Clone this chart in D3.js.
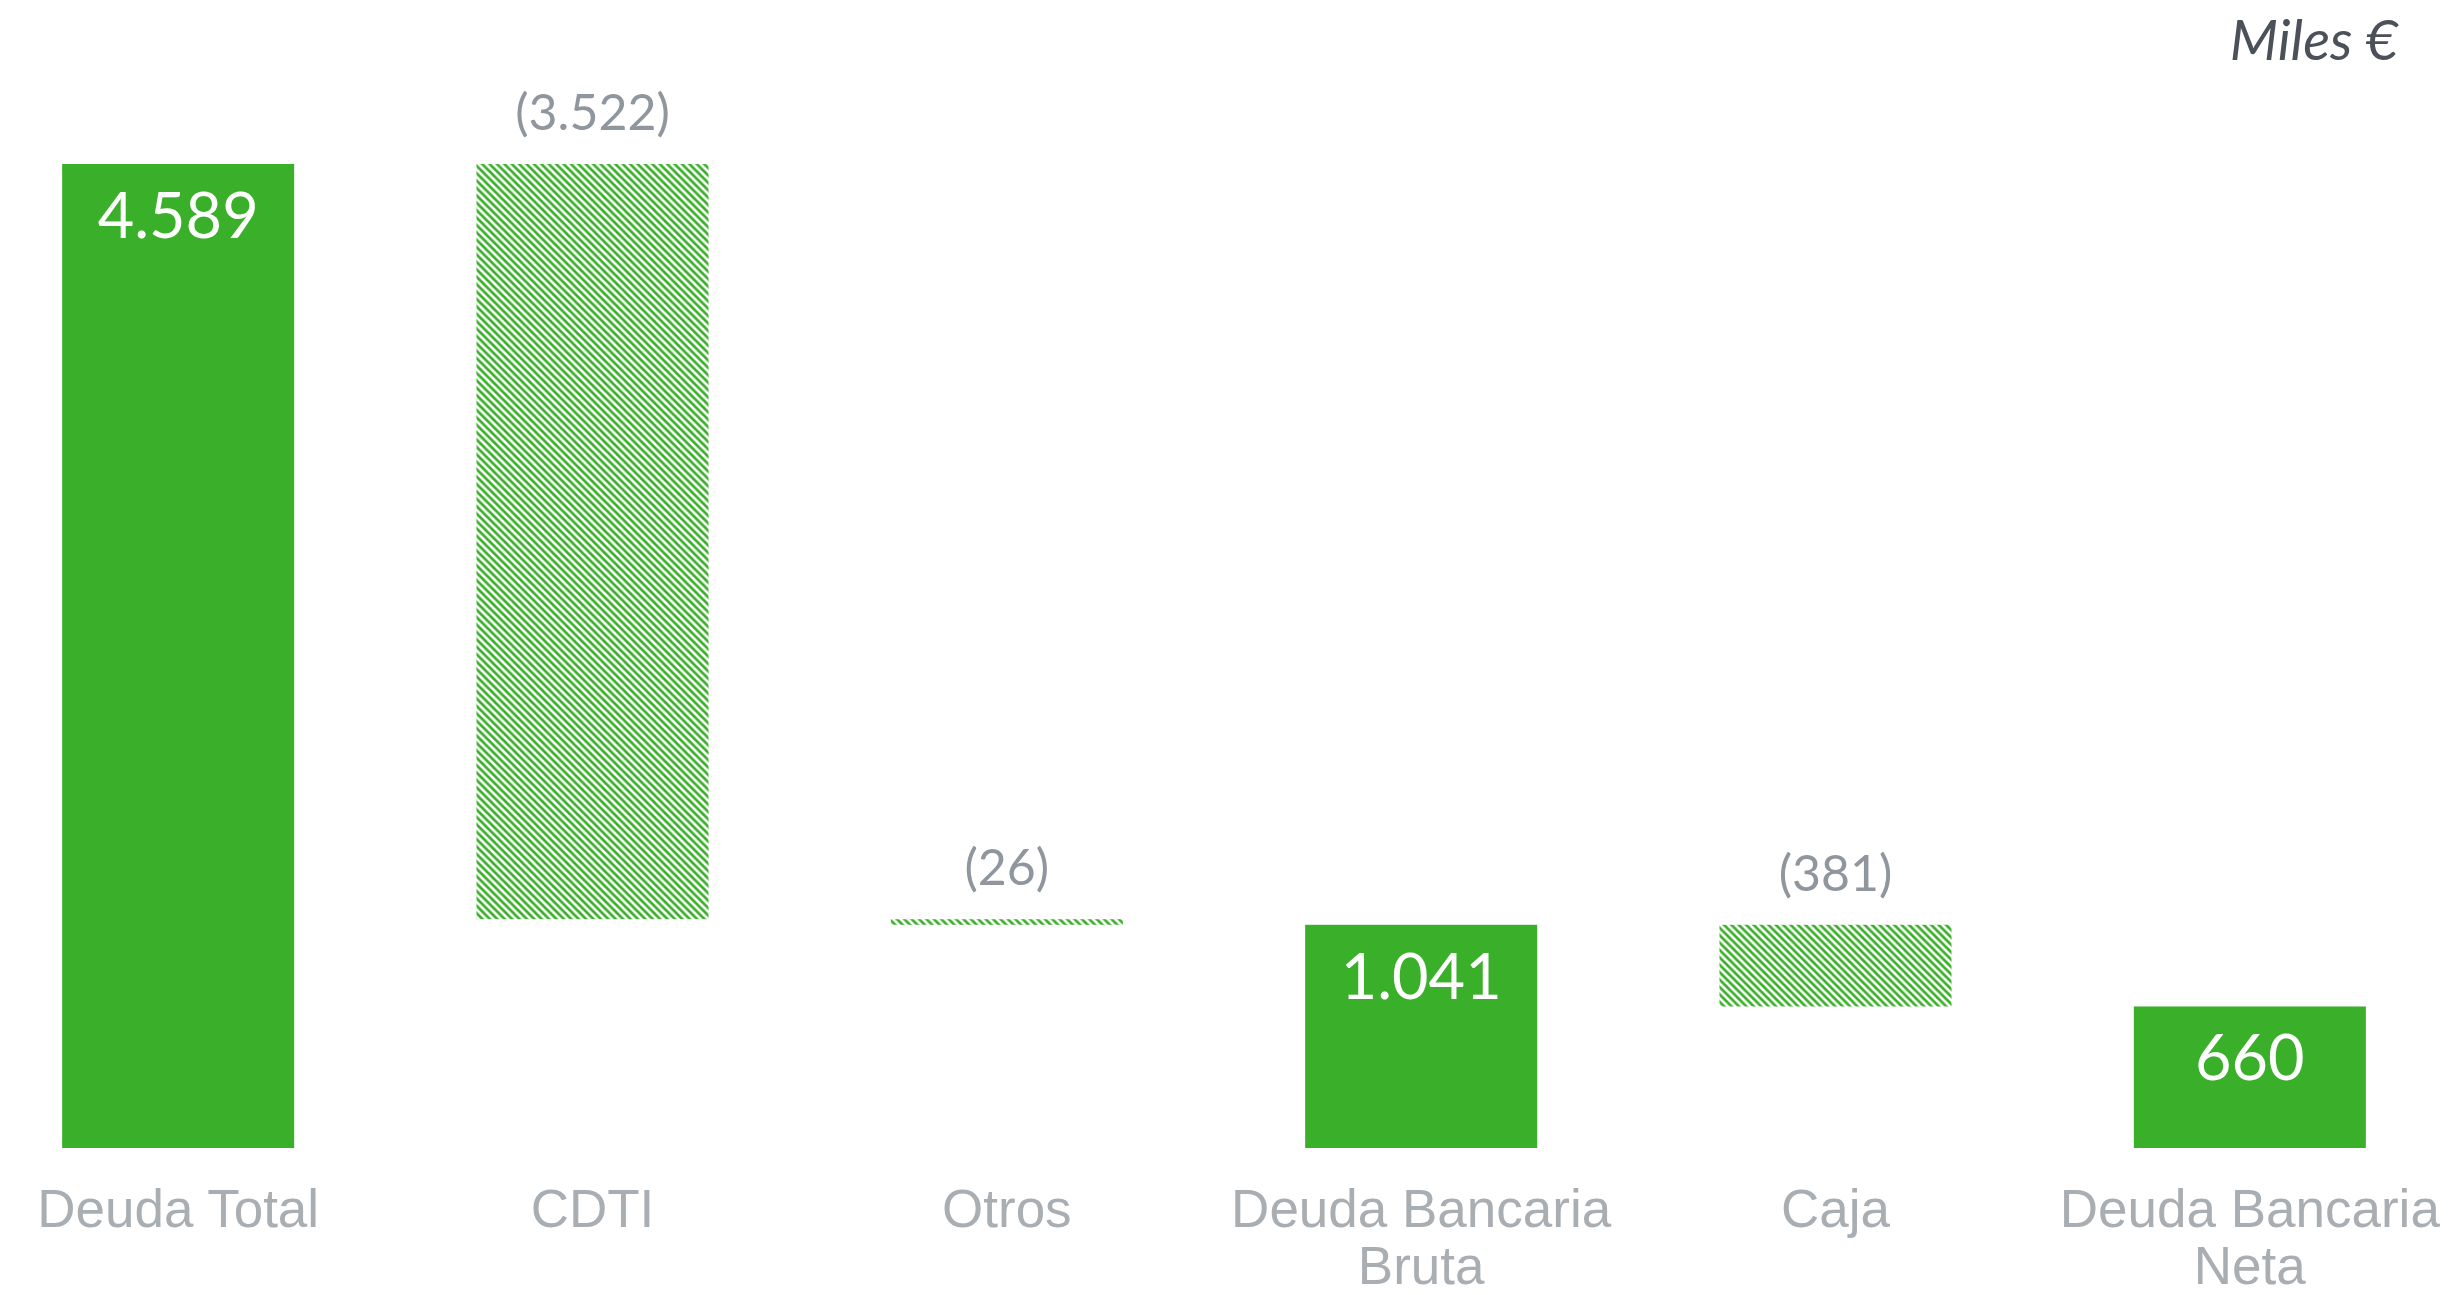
<!DOCTYPE html>
<html>
<head>
<meta charset="utf-8">
<script src="https://cdn.jsdelivr.net/npm/d3@7"></script>
<style>
  html, body { margin: 0; padding: 0; background: #ffffff; }
  svg { display: block; }
</style>
</head>
<body>
<svg id="chart" width="2464" height="1295"></svg>
<script>
// ---- data ----
const categories = ["Deuda Total", "CDTI", "Otros", "Deuda Bancaria Bruta", "Caja", "Deuda Bancaria Neta"];
const categoryLines = [["Deuda Total"], ["CDTI"], ["Otros"], ["Deuda Bancaria", "Bruta"], ["Caja"], ["Deuda Bancaria", "Neta"]];
const values = [4589, -3522, -26, 1041, -381, 660];
const barTypes = ["total", "delta", "delta", "total", "delta", "total"];
const valueLabels = ["4.589", "(3.522)", "(26)", "1.041", "(381)", "660"];
const unitLabel = "Miles €";

// ---- build waterfall segments ----
let running = 0;
const segs = values.map((v, i) => {
  let y0, y1;
  if (barTypes[i] === "total") { y0 = 0; y1 = v; running = v; }
  else { y0 = running; y1 = running + v; running = y1; }
  return { cat: categories[i], lines: categoryLines[i], type: barTypes[i], lo: Math.min(y0, y1), hi: Math.max(y0, y1), label: valueLabels[i] };
});

const svg = d3.select("#chart");
const green = "#3aaf29";

const defs = svg.append("defs");
const pat = defs.append("pattern")
  .attr("id", "hatch").attr("patternUnits", "userSpaceOnUse")
  .attr("width", 7.4).attr("height", 7.4);
pat.append("rect").attr("width", 7.4).attr("height", 7.4).attr("fill", "#ffffff");
pat.append("path")
  .attr("d", "M-1.85,-1.85 L9.25,9.25 M-1.85,5.55 L1.85,9.25 M5.55,-1.85 L9.25,1.85")
  .attr("stroke", green).attr("stroke-width", 2.7);

const x = d3.scaleBand().domain(categories).range([-29, 2457]).paddingInner(0.44).paddingOuter(0.22);
const y = d3.scaleLinear().domain([0, 4589]).range([1148, 164]);

const g = svg.append("g");

g.selectAll("rect.bar").data(segs).join("rect")
  .attr("class", "bar")
  .attr("x", d => x(d.cat))
  .attr("width", x.bandwidth())
  .attr("y", d => y(d.hi))
  .attr("height", d => Math.max(1, y(d.lo) - y(d.hi)))
  .attr("fill", d => d.type === "total" ? green : "url(#hatch)");

// value labels
g.selectAll("text.val").data(segs).join("text")
  .attr("class", "val")
  .attr("x", d => x(d.cat) + x.bandwidth() / 2)
  .attr("y", d => d.type === "total" ? y(d.hi) + 74 : y(d.hi) - 34)
  .attr("text-anchor", "middle")
  .attr("font-family", "Lato, 'Open Sans', sans-serif")
  .attr("font-size", d => d.type === "total" ? 63 : 50)
  .attr("fill", d => d.type === "total" ? "#ffffff" : "#8f969e")
  .text(d => d.label);

// category axis labels
const xl = g.selectAll("text.cat").data(segs).join("text")
  .attr("class", "cat")
  .attr("x", d => x(d.cat) + x.bandwidth() / 2)
  .attr("y", 1227)
  .attr("text-anchor", "middle")
  .attr("font-family", "'Liberation Sans', Arial, sans-serif")
  .attr("font-size", 53)
  .attr("fill", "#a9aeb3");
xl.selectAll("tspan").data(d => d.lines.map(l => ({ l, cx: x(d.cat) + x.bandwidth() / 2 }))).join("tspan")
  .attr("x", t => t.cx)
  .attr("dy", (t, i) => i === 0 ? 0 : 57)
  .text(t => t.l);

// unit label
svg.append("text")
  .attr("x", 2398).attr("y", 60)
  .attr("text-anchor", "end")
  .attr("font-family", "Lato, 'Open Sans', sans-serif")
  .attr("font-style", "italic")
  .attr("font-size", 56)
  .attr("fill", "#4b5059")
  .text(unitLabel);
</script>
</body>
</html>
